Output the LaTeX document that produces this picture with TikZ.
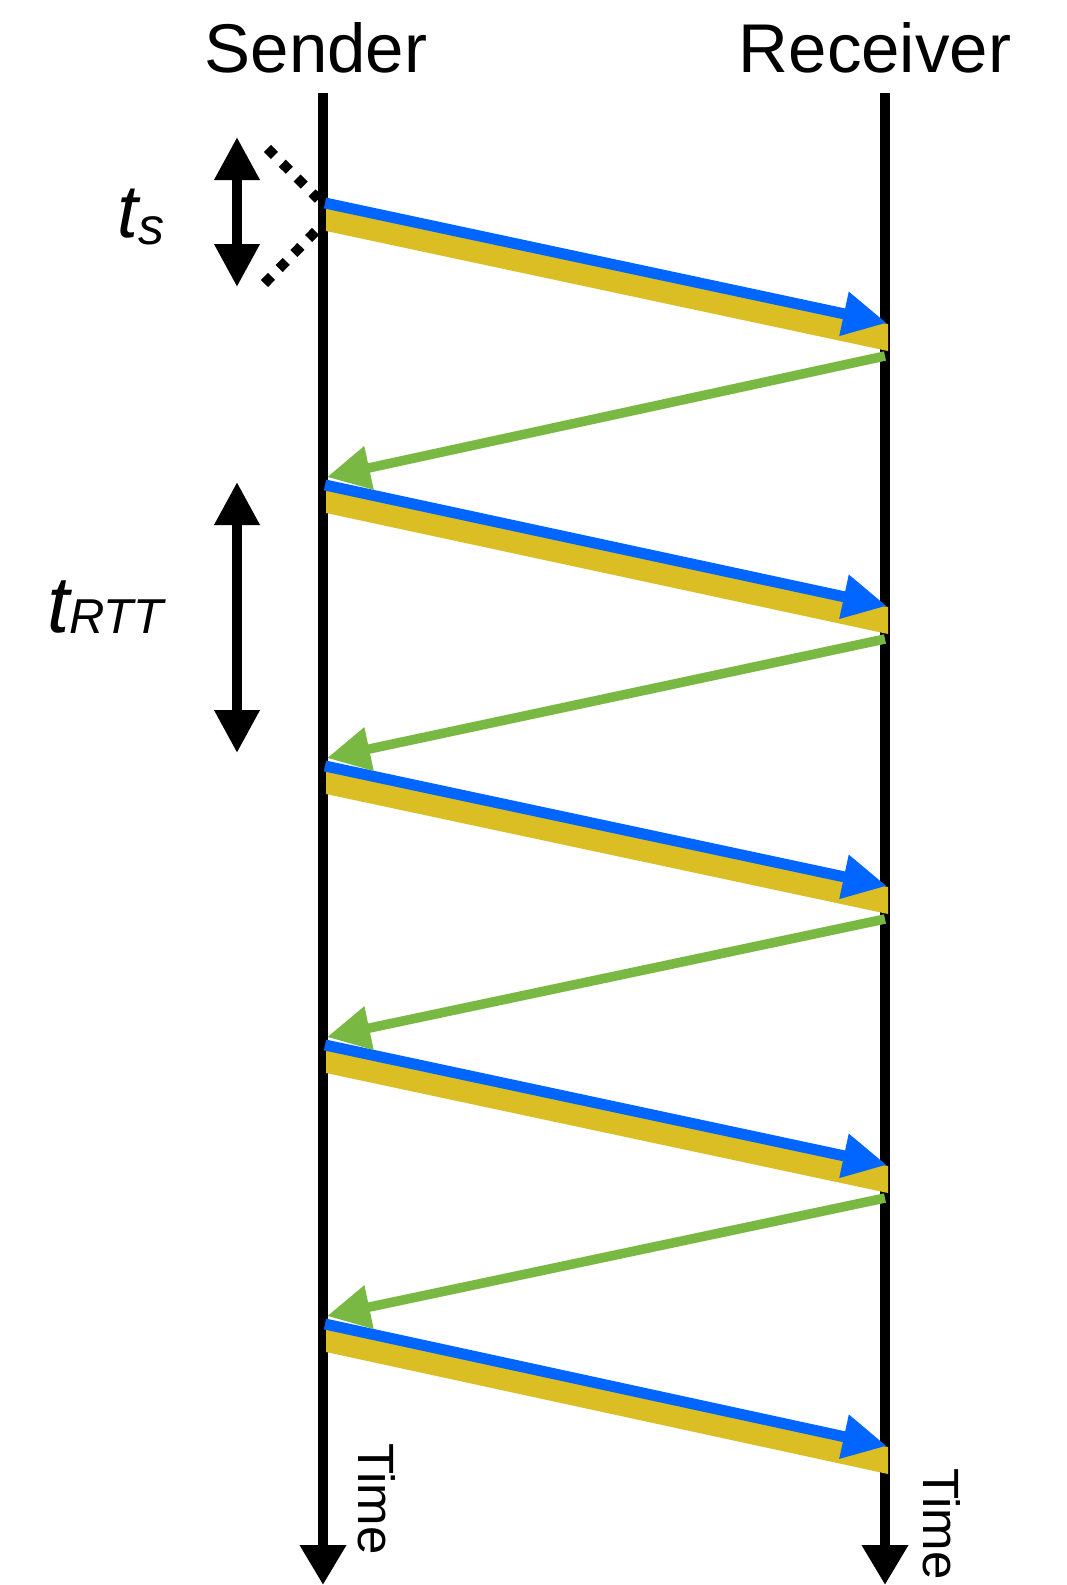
\documentclass[tikz,border=0pt]{standalone}
\usepackage{fontspec}
\setmainfont{Liberation Sans}
\usepackage{xcolor}
\usepackage{tikz}
\usetikzlibrary{arrows.meta}
\definecolor{msgc}{HTML}{0066FF}
\definecolor{datac}{HTML}{DABE24}
\definecolor{ackc}{HTML}{78B843}
\tikzset{
  life/.style={line width=10pt,-{Triangle[length=40pt,width=44pt]}},
  msg/.style={line width=11pt,msgc,-{Triangle[length=44pt,width=42pt]}},
  ack/.style={line width=9.5pt,ackc,-{Triangle[length=43pt,width=42pt]}},
  dur/.style={line width=10pt,{Triangle[length=43pt,width=43pt]}-{Triangle[length=43pt,width=43pt]}},
  dotline/.style={line width=10pt,dash pattern=on 10pt off 11pt},
  big/.style={font=\fontsize{69}{80}\selectfont,inner sep=0pt}
}
\begin{document}
\begin{tikzpicture}[x=1pt,y=-1pt]
\useasboundingbox (0,0) rectangle (1066,1585);
\node[big,anchor=base] (snd) at (316,72) {Sender};
\node[big,anchor=base] (rcv) at (875,72) {Receiver};
\coordinate (sndtop) at (323,93);
\coordinate (sndbot) at (323,1585);
\coordinate (rcvtop) at (885,93);
\coordinate (rcvbot) at (885,1585);
\draw[life] (sndtop) -- (sndbot);
\draw[life] (rcvtop) -- (rcvbot);
\foreach \i/\yl/\yr in {1/203/323,2/485/606,3/766/886,4/1045/1165,5/1324/1446}{
  \fill[datac] (326,\yl+5) -- (888,\yr+1) -- (888,\yr+28) -- (326,\yl+28) -- cycle;
  \coordinate (pkts\i) at (325,\yl);
  \coordinate (pktr\i) at (887,\yr);
  \draw[msg] (pkts\i) -- (pktr\i);
}
\foreach \i/\yr/\yn in {1/323/485,2/606/766,3/886/1045,4/1165/1324}{
  \coordinate (ackr\i) at (885,\yr+33);
  \coordinate (acks\i) at (327,\yn-8);
  \draw[ack] (ackr\i) -- (acks\i);
}
\coordinate (tstop) at (237,137);
\coordinate (tsbot) at (237,287);
\draw[dur] (tstop) -- (tsbot);
\coordinate (dota) at (267.4,148.4);
\coordinate (dotb) at (318.4,199.2);
\coordinate (dotc) at (315.6,231.4);
\coordinate (dotd) at (263.4,284.6);
\draw[dotline] (dota) -- (dotb);
\draw[dotline] (dotc) -- (dotd);
\node[anchor=base west,inner sep=0pt,font=\fontsize{75}{80}\selectfont\itshape] (ts) at (117,237) {t\raisebox{-7pt}{\fontsize{52}{54}\selectfont s}};
\coordinate (rtttop) at (237,482);
\coordinate (rttbot) at (237,753);
\draw[dur] (rtttop) -- (rttbot);
\node[anchor=base west,inner sep=0pt,font=\fontsize{80}{84}\selectfont\itshape] (rtt) at (47,632) {t\raisebox{-1pt}{\fontsize{49}{52}\selectfont RTT}};
\node[anchor=base west,inner sep=0pt,rotate=-90,font=\fontsize{51}{60}\selectfont] (tsnd) at (358,1443) {Time};
\node[anchor=base west,inner sep=0pt,rotate=-90,font=\fontsize{51}{60}\selectfont] (trcv) at (923,1468) {Time};
\end{tikzpicture}
\end{document}
